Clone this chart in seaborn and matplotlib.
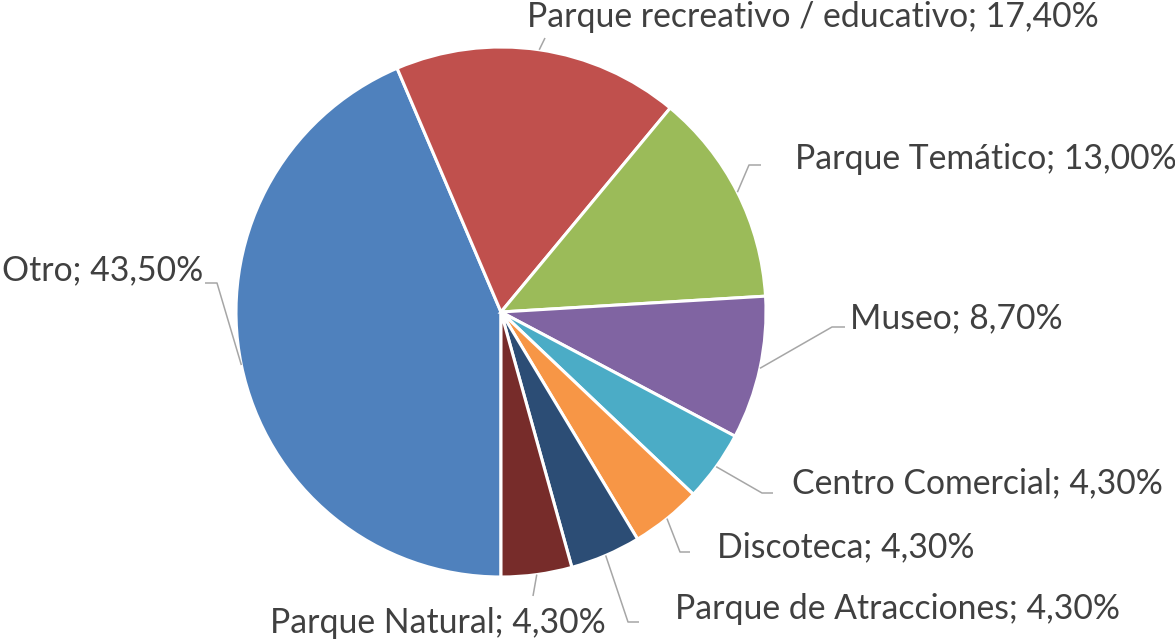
import numpy as np
import matplotlib
matplotlib.use("Agg")
import matplotlib.pyplot as plt
import seaborn as sns

categories = ["Otro", "Parque recreativo / educativo", "Parque Temático", "Museo",
              "Centro Comercial", "Discoteca", "Parque de Atracciones", "Parque Natural"]
values = [43.5, 17.4, 13.0, 8.7, 4.3, 4.3, 4.3, 4.3]
colors = ["#4F81BD", "#C0504D", "#9BBB59", "#8064A2", "#4BACC6", "#F79646", "#2C4D75", "#772C2A"]

sns.set_theme(style="white")
plt.rcParams['font.family'] = ['Lato', 'DejaVu Sans']

W, H = 1175, 641
fig = plt.figure(figsize=(W / 100, H / 100), dpi=100)
ax = fig.add_axes([0, 0, 1, 1])

cx, cy, R = 501, H - 312, 265
wedges, _ = ax.pie(values, colors=colors, startangle=-90, counterclock=False,
                   center=(cx, cy), radius=R, frame=True,
                   wedgeprops=dict(edgecolor="white", linewidth=2.2))
ax.set_xlim(0, W)
ax.set_ylim(0, H)
ax.set_aspect('equal')
ax.axis('off')

labels = [f"{c}; {v:.2f}%".replace(".", ",") for c, v in zip(categories, values)]

# layout: (elbow_x, elbow_y, end_x, end_y, text_x, text_baseline_y, ha) in pixels from top-left
layout = [
    (217, 283, 205, 283, 2, 280, "left"),
    (545, 38, 545, 38, 527, 27, "left"),
    (749, 165, 761, 165, 795, 169, "left"),
    (832, 327, 845, 327, 850, 328, "left"),
    (762, 493, 773, 493, 792, 493, "left"),
    (680, 552, 690, 552, 717, 557, "left"),
    (628, 622, 639, 622, 675, 619, "left"),
    (533, 596, 533, 596, 270, 633, "left"),
]

# font size so the longest label matches the reference width
renderer = fig.canvas.get_renderer()
probe = ax.text(0, 0, labels[1], fontsize=20)
w = probe.get_window_extent(renderer).width
probe.remove()
fs = 20 * 573 / w

line_col = "#A6A6A6"
for wdg, lab, (ex, ey, nx, ny, tx, ty, ha) in zip(wedges, labels, layout):
    theta = np.deg2rad((wdg.theta1 + wdg.theta2) / 2)
    sx, sy = cx + R * np.cos(theta), cy + R * np.sin(theta)
    ax.plot([sx, ex, nx], [sy, H - ey, H - ny], color=line_col, lw=1.1,
            solid_capstyle='butt', zorder=1)
    ax.text(tx, H - ty, lab, ha=ha, va='baseline', fontsize=fs, color="#404040")

fig.savefig("out.png", dpi=100)
